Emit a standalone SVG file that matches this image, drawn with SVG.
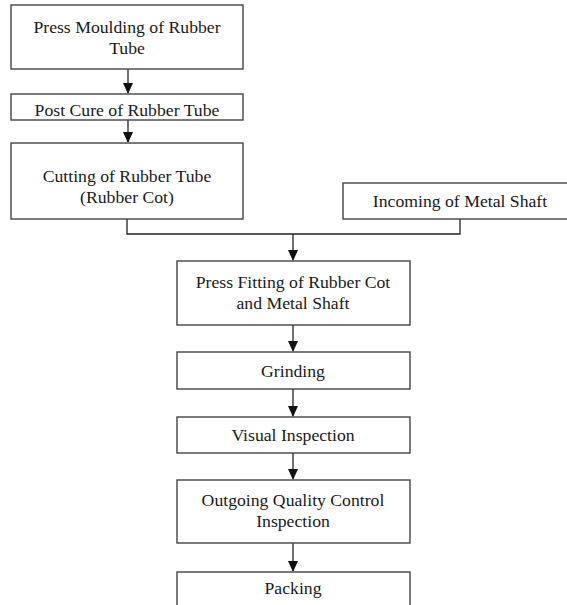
<svg xmlns="http://www.w3.org/2000/svg" width="567" height="605" viewBox="0 0 567 605">
<style>
.box{fill:#fff;stroke:#444;stroke-width:1.4}
.lbl{font-family:"Liberation Serif","Times New Roman",serif;font-size:17.7px;fill:#1a1a1a;text-anchor:middle}
.con{fill:none;stroke:#222;stroke-width:1.3}
.ah{fill:#111}
</style>
<rect width="567" height="605" fill="#fff"/>
<g id="connectors">
<line class="con" x1="128" y1="69" x2="128" y2="93"/>
<path class="ah" d="M123,83 L133,83 L128,94 Z"/>
<line class="con" x1="128" y1="120" x2="128" y2="142"/>
<path class="ah" d="M123,132 L133,132 L128,143 Z"/>
<polyline class="con" points="127,219 127,234 460,234 460,219"/>
<line class="con" x1="293" y1="234" x2="293" y2="260"/>
<path class="ah" d="M288,250 L298,250 L293,261 Z"/>
<line class="con" x1="293" y1="325" x2="293" y2="351"/>
<path class="ah" d="M288,341 L298,341 L293,352 Z"/>
<line class="con" x1="293" y1="389" x2="293" y2="416"/>
<path class="ah" d="M288,406 L298,406 L293,417 Z"/>
<line class="con" x1="293" y1="453" x2="293" y2="479"/>
<path class="ah" d="M288,469 L298,469 L293,480 Z"/>
<line class="con" x1="293" y1="543" x2="293" y2="571"/>
<path class="ah" d="M288,561 L298,561 L293,572 Z"/>
</g>
<g id="n1"><rect class="box" x="11" y="5" width="232" height="64"/>
<text class="lbl" x="127" y="33">Press Moulding of Rubber</text>
<text class="lbl" x="127" y="54">Tube</text></g>
<g id="n2"><rect class="box" x="11" y="94" width="232" height="26"/>
<text class="lbl" x="127" y="116">Post Cure of Rubber Tube</text></g>
<g id="n3"><rect class="box" x="11" y="143" width="232" height="76"/>
<text class="lbl" x="127" y="182">Cutting of Rubber Tube</text>
<text class="lbl" x="127" y="203">(Rubber Cot)</text></g>
<g id="n4"><rect class="box" x="343" y="183" width="240" height="36"/>
<text class="lbl" x="460" y="207">Incoming of Metal Shaft</text></g>
<g id="n5"><rect class="box" x="177" y="261" width="233" height="64"/>
<text class="lbl" x="293" y="288">Press Fitting of Rubber Cot</text>
<text class="lbl" x="293" y="309">and Metal Shaft</text></g>
<g id="n6"><rect class="box" x="177" y="352" width="233" height="37"/>
<text class="lbl" x="293" y="377">Grinding</text></g>
<g id="n7"><rect class="box" x="177" y="417" width="233" height="36"/>
<text class="lbl" x="293" y="441">Visual Inspection</text></g>
<g id="n8"><rect class="box" x="177" y="480" width="233" height="63"/>
<text class="lbl" x="293" y="506">Outgoing Quality Control</text>
<text class="lbl" x="293" y="527">Inspection</text></g>
<g id="n9"><rect class="box" x="177" y="572" width="233" height="50"/>
<text class="lbl" x="293" y="594">Packing</text></g>
</svg>
